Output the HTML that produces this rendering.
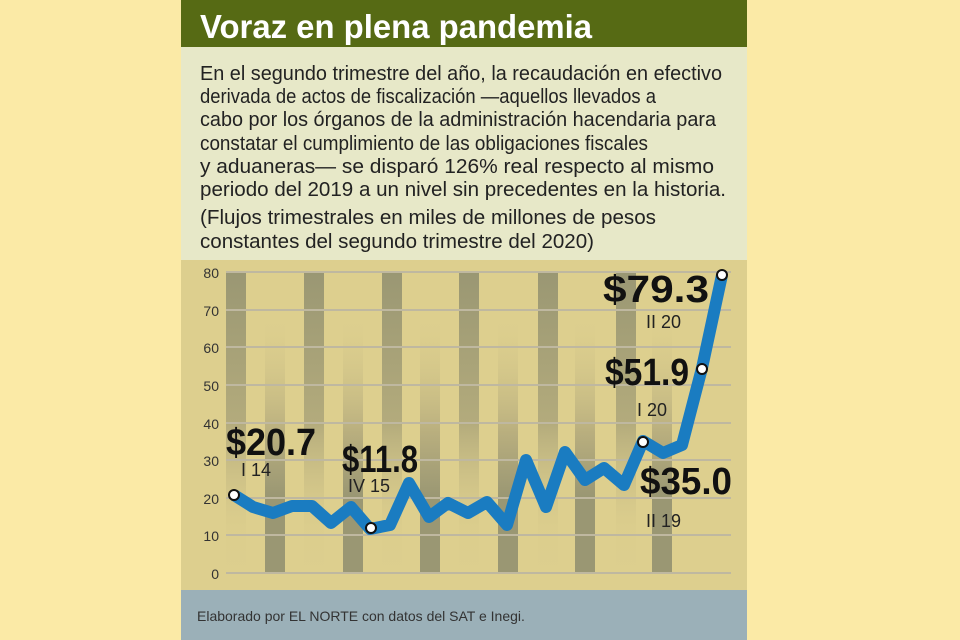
<!DOCTYPE html>
<html><head><meta charset="utf-8"><style>body{margin:0;background:#fbeaa6}svg{display:block}</style></head>
<body>
<svg width="960" height="640" viewBox="0 0 960 640" xmlns="http://www.w3.org/2000/svg" font-family="Liberation Sans, sans-serif">
<defs>
<linearGradient id="tb" x1="0" y1="0" x2="0" y2="1"><stop offset="0" stop-color="#9a9773"/><stop offset="0.5" stop-color="#b3ab7c"/><stop offset="0.85" stop-color="#d7c98a" stop-opacity="0.3"/><stop offset="1" stop-color="#d7c98a" stop-opacity="0"/></linearGradient>
<linearGradient id="bb" x1="0" y1="0" x2="0" y2="1"><stop offset="0" stop-color="#d7c98a" stop-opacity="0"/><stop offset="0.45" stop-color="#b8ae7e"/><stop offset="0.7" stop-color="#9a9773"/><stop offset="1" stop-color="#9a9773"/></linearGradient>
</defs>
<rect width="960" height="640" fill="#fbeaa6"/>
<rect x="181" y="0" width="566" height="47" fill="#566a14"/>
<text x="200" y="38" font-size="33" font-weight="bold" fill="#fff" textLength="392" lengthAdjust="spacingAndGlyphs">Voraz en plena pandemia</text>
<rect x="181" y="47" width="566" height="213" fill="#e7e8c8"/>
<g font-size="20" fill="#222" lengthAdjust="spacingAndGlyphs">
<text x="200" y="80" textLength="522" lengthAdjust="spacingAndGlyphs">En el segundo trimestre del año, la recaudación en efectivo</text>
<text x="200" y="103" textLength="456" lengthAdjust="spacingAndGlyphs">derivada de actos de fiscalización —aquellos llevados a</text>
<text x="200" y="126" textLength="516" lengthAdjust="spacingAndGlyphs">cabo por los órganos de la administración hacendaria para</text>
<text x="200" y="150" textLength="448" lengthAdjust="spacingAndGlyphs">constatar el cumplimiento de las obligaciones fiscales</text>
<text x="200" y="173" textLength="514" lengthAdjust="spacingAndGlyphs">y aduaneras— se disparó 126% real respecto al mismo</text>
<text x="200" y="196" textLength="526" lengthAdjust="spacingAndGlyphs">periodo del 2019 a un nivel sin precedentes en la historia.</text>
<text x="200" y="224" textLength="456" lengthAdjust="spacingAndGlyphs">(Flujos trimestrales en miles de millones de pesos</text>
<text x="200" y="248" textLength="394" lengthAdjust="spacingAndGlyphs">constantes del segundo trimestre del 2020)</text>
</g>
<rect x="181" y="260" width="566" height="330" fill="#ddcf8e"/>
<g fill="url(#tb)">
<rect x="226" y="272" width="20" height="301"/><rect x="304" y="272" width="20" height="301"/><rect x="382" y="272" width="20" height="301"/><rect x="459" y="272" width="20" height="301"/><rect x="538" y="272" width="20" height="301"/><rect x="616" y="272" width="20" height="301"/>
</g>
<g fill="url(#bb)">
<rect x="265" y="320" width="20" height="253"/><rect x="343" y="320" width="20" height="253"/><rect x="420" y="320" width="20" height="253"/><rect x="498" y="320" width="20" height="253"/><rect x="575" y="320" width="20" height="253"/><rect x="652" y="320" width="20" height="253"/>
</g>
<g stroke="#bfb8a0" stroke-width="2">
<line x1="226" x2="731" y1="272" y2="272"/><line x1="226" x2="731" y1="310" y2="310"/><line x1="226" x2="731" y1="347" y2="347"/><line x1="226" x2="731" y1="385" y2="385"/><line x1="226" x2="731" y1="423" y2="423"/><line x1="226" x2="731" y1="460" y2="460"/><line x1="226" x2="731" y1="498" y2="498"/><line x1="226" x2="731" y1="535" y2="535"/><line x1="226" x2="731" y1="573" y2="573"/>
</g>
<g font-size="14" fill="#333" text-anchor="end">
<text x="219" y="278">80</text><text x="219" y="316">70</text><text x="219" y="353">60</text><text x="219" y="391">50</text><text x="219" y="429">40</text><text x="219" y="466">30</text><text x="219" y="504">20</text><text x="219" y="541">10</text><text x="219" y="579">0</text>
</g>
<polyline fill="none" stroke="#1a7cc1" stroke-width="12" stroke-linejoin="round" points="234,495 253,507 273,513 292,506 312,506 331,523 351,507 370,529 390,525 409,483 429,517 448,503 468,513 487,502 507,525 526,460 546,507 565,452 585,480 604,468 624,485 643,441 663,453 682,445 702,368 722,275"/>
<g fill="#fff" stroke="#111" stroke-width="2">
<circle cx="234" cy="495" r="5"/><circle cx="371" cy="528" r="5"/><circle cx="643" cy="442" r="5"/><circle cx="702" cy="369" r="5"/><circle cx="722" cy="275" r="5"/>
</g>
<g font-weight="bold" fill="#111" font-size="38">
<text x="226" y="455" textLength="90" lengthAdjust="spacingAndGlyphs">$20.7</text>
<text x="342" y="472" textLength="76" lengthAdjust="spacingAndGlyphs">$11.8</text>
<text x="603" y="302" textLength="106" lengthAdjust="spacingAndGlyphs">$79.3</text>
<text x="605" y="385" textLength="84" lengthAdjust="spacingAndGlyphs">$51.9</text>
<text x="640" y="494" textLength="92" lengthAdjust="spacingAndGlyphs">$35.0</text>
</g>
<g font-size="18" fill="#222">
<text x="241" y="476">I 14</text>
<text x="348" y="492">IV 15</text>
<text x="646" y="328">II 20</text>
<text x="637" y="416">I 20</text>
<text x="646" y="527">II 19</text>
</g>
<rect x="181" y="590" width="566" height="50" fill="#9bb0b8"/>
<text x="197" y="621" font-size="14" fill="#333">Elaborado por EL NORTE con datos del SAT e Inegi.</text>
</svg>
</body></html>
